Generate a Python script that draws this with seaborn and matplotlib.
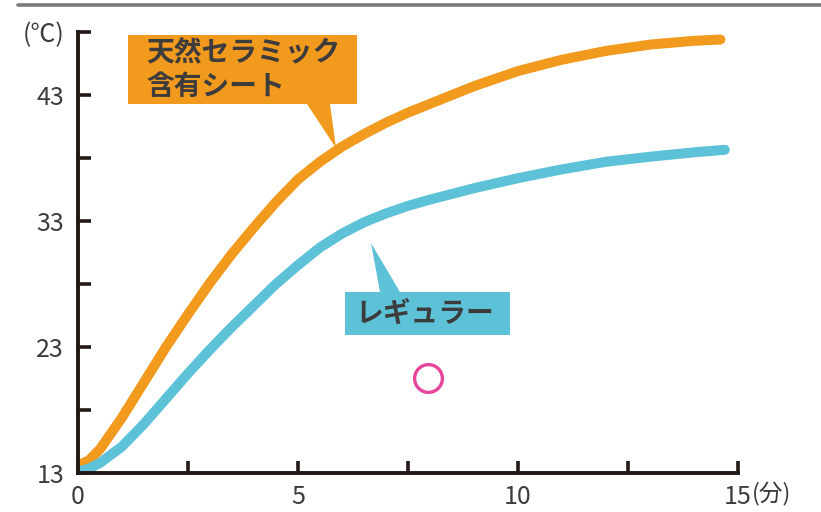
import numpy as np
import pandas as pd
import matplotlib
matplotlib.use("Agg")
import matplotlib.pyplot as plt
import matplotlib.transforms as mtransforms
from matplotlib.patches import Polygon
import seaborn as sns

# ---- data ----
ceramic_time = [0.0, 0.25, 0.5, 1.0, 1.5, 2.0, 2.5, 3.0, 3.5, 4.0, 4.5, 5.0, 5.5, 6.0, 6.5,
                7.0, 7.5, 8.0, 9.0, 10.0, 11.0, 12.0, 13.0, 14.0, 14.6]
ceramic_temp = [13.6, 14.0, 14.9, 17.4, 20.2, 23.0, 25.6, 28.1, 30.4, 32.5, 34.5, 36.3, 37.7, 38.9, 39.9,
                40.8, 41.6, 42.3, 43.7, 44.9, 45.8, 46.5, 47.0, 47.3, 47.4]
regular_time = [0.0, 0.25, 0.5, 1.0, 1.5, 2.0, 2.5, 3.0, 3.5, 4.0, 4.5, 5.0, 5.5, 6.0, 6.5,
                7.0, 7.5, 8.0, 9.0, 10.0, 11.0, 12.0, 13.0, 14.0, 14.7]
regular_temp = [13.1, 13.35, 13.8, 15.1, 16.9, 18.9, 20.9, 22.8, 24.6, 26.3, 28.0, 29.5, 30.9, 32.0, 32.9,
                33.6, 34.2, 34.7, 35.6, 36.4, 37.1, 37.7, 38.1, 38.45, 38.65]
series_names = ["天然セラミック含有シート", "レギュラー"]
label_lines = ["天然セラミック", "含有シート"]
y_ticks = [13, 18, 23, 28, 33, 38, 43, 48]
y_tick_labels = ["13", "", "23", "", "33", "", "43", "(℃)"]
x_ticks = [0, 2.5, 5, 7.5, 10, 12.5, 15]
x_tick_labels = ["0", "", "5", "", "10", "", "15"]
x_unit = "(分)"
marker_point = (7.95, 20.5)

ORANGE = "#F29A1E"
CYAN = "#5DC2D8"
INK = "#231815"
TXT = "#3C3C3C"

sns.set_style("white")
plt.rcParams["font.family"] = ["Noto Sans CJK JP", "DejaVu Sans"]

df = pd.concat([
    pd.DataFrame({"time": ceramic_time, "temp": ceramic_temp, "series": series_names[0]}),
    pd.DataFrame({"time": regular_time, "temp": regular_temp, "series": series_names[1]}),
])

fig = plt.figure(figsize=(8.21, 5.12), dpi=100)
W, H = 821, 512
ax = fig.add_axes([78 / W, (H - 473) / H, (738 - 78) / W, (473 - 32) / H])

sns.lineplot(data=df, x="time", y="temp", hue="series", sort=False, estimator=None,
             palette={series_names[0]: ORANGE, series_names[1]: CYAN},
             linewidth=7.2, legend=False, ax=ax, solid_capstyle="round",
             solid_joinstyle="round", zorder=3)

ax.set_xlim(0, 15)
ax.set_ylim(13, 48)
ax.set_xlabel("")
ax.set_ylabel("")
ax.set_xticks(x_ticks)
ax.set_xticklabels(x_tick_labels)
ax.set_yticks(y_ticks)
ax.set_yticklabels(y_tick_labels)
for s in ["top", "right"]:
    ax.spines[s].set_visible(False)
for s in ["left", "bottom"]:
    ax.spines[s].set_color(INK)
    ax.spines[s].set_linewidth(2.8)
    ax.spines[s].set_zorder(5)
ax.tick_params(axis="both", which="both", left=True, bottom=True, direction="in",
               length=9, width=2.6, color=INK, labelcolor=TXT, labelsize=18)
ax.tick_params(axis="y", pad=10)
ax.tick_params(axis="x", pad=8)
ax.set_facecolor("white")

# unit for x axis
px = mtransforms.Affine2D().scale(1 / W, -1 / H).translate(0, 1) + fig.transFigure
fig.text(752, 494, x_unit, transform=px, fontsize=17, color=TXT, ha="left", va="center")

# top rule
fig.add_artist(plt.Line2D([18, 821], [5, 5], transform=px, color="#7A7A7A", linewidth=2.6))

# callouts
orange_poly = [(128, 35), (357, 35), (357, 104), (330, 104), (336, 148), (307, 104), (128, 104)]
fig.add_artist(Polygon(orange_poly, closed=True, transform=px, facecolor=ORANGE,
                       edgecolor="none", zorder=6))
fig.text(146, 53, label_lines[0], transform=px, fontsize=20, color=TXT, weight="bold",
         ha="left", va="center", zorder=7)
fig.text(146, 87, label_lines[1], transform=px, fontsize=20, color=TXT, weight="bold",
         ha="left", va="center", zorder=7)

cyan_poly = [(345, 292), (380, 292), (371, 243), (400, 292), (510, 292), (510, 335), (345, 335)]
fig.add_artist(Polygon(cyan_poly, closed=True, transform=px, facecolor=CYAN,
                       edgecolor="none", zorder=6))
fig.text(356, 314, series_names[1], transform=px, fontsize=20, color=TXT, weight="bold",
         ha="left", va="center", zorder=7)

# pink circle marker
ax.plot([marker_point[0]], [marker_point[1]], marker="o", markersize=20,
        markerfacecolor="none", markeredgecolor="#E8449C", markeredgewidth=2.4, zorder=4)

fig.savefig("out.png", dpi=100, facecolor="white")
